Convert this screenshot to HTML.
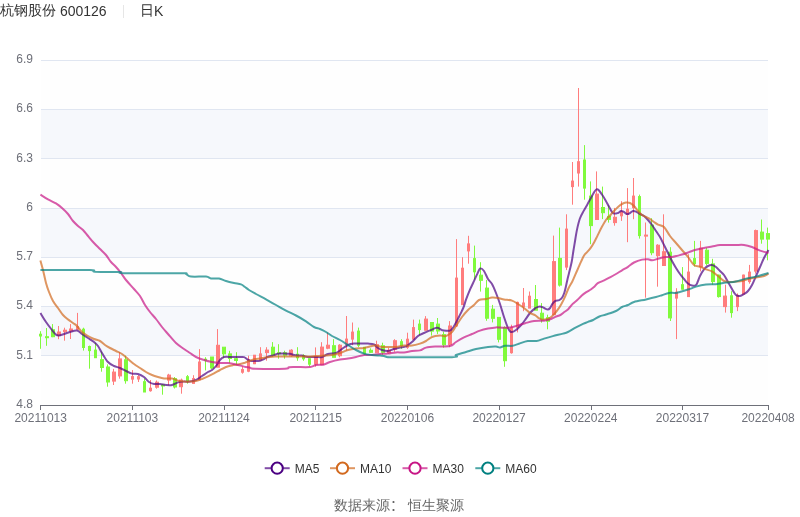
<!DOCTYPE html>
<html><head><meta charset="utf-8"><style>
html,body{margin:0;padding:0;background:#fff;width:800px;height:517px;overflow:hidden}
svg{position:absolute;left:0;top:0;will-change:transform}
.t{will-change:transform}
.ax{font-family:"Liberation Sans",sans-serif;font-size:12px;fill:#6E7079}
.lg{font-family:"Liberation Sans",sans-serif;font-size:12px;fill:#333}
.t{position:absolute;font-family:"Liberation Sans","WenQuanYi Zen Hei",sans-serif;font-size:14px;color:#333;white-space:nowrap;line-height:1}
</style></head><body>
<svg width="800" height="517" viewBox="0 0 800 517">
<rect x="41" y="355.5" width="727" height="50.0" fill="#fefefe"/>
<rect x="41" y="306.5" width="727" height="49.0" fill="#f6f8fc"/>
<rect x="41" y="257.5" width="727" height="49.0" fill="#fefefe"/>
<rect x="41" y="208.5" width="727" height="49.0" fill="#f6f8fc"/>
<rect x="41" y="158.5" width="727" height="50.0" fill="#fefefe"/>
<rect x="41" y="109.5" width="727" height="49.0" fill="#f6f8fc"/>
<rect x="41" y="60.5" width="727" height="49.0" fill="#fefefe"/>
<line x1="41" y1="355.5" x2="768" y2="355.5" stroke="#E0E6F1" stroke-width="1"/>
<line x1="41" y1="306.5" x2="768" y2="306.5" stroke="#E0E6F1" stroke-width="1"/>
<line x1="41" y1="257.5" x2="768" y2="257.5" stroke="#E0E6F1" stroke-width="1"/>
<line x1="41" y1="208.5" x2="768" y2="208.5" stroke="#E0E6F1" stroke-width="1"/>
<line x1="41" y1="158.5" x2="768" y2="158.5" stroke="#E0E6F1" stroke-width="1"/>
<line x1="41" y1="109.5" x2="768" y2="109.5" stroke="#E0E6F1" stroke-width="1"/>
<line x1="41" y1="60.5" x2="768" y2="60.5" stroke="#E0E6F1" stroke-width="1"/>
<text x="33" y="408.00" text-anchor="end" class="ax">4.8</text>
<text x="33" y="358.71" text-anchor="end" class="ax">5.1</text>
<text x="33" y="309.43" text-anchor="end" class="ax">5.4</text>
<text x="33" y="260.14" text-anchor="end" class="ax">5.7</text>
<text x="33" y="210.86" text-anchor="end" class="ax">6</text>
<text x="33" y="161.57" text-anchor="end" class="ax">6.3</text>
<text x="33" y="112.29" text-anchor="end" class="ax">6.6</text>
<text x="33" y="63.00" text-anchor="end" class="ax">6.9</text>
<line x1="40.665" y1="405.5" x2="768.06" y2="405.5" stroke="#6E7079" stroke-width="1"/>
<line x1="40.5" y1="405" x2="40.5" y2="410" stroke="#6E7079" stroke-width="1"/>
<text x="40.7" y="422" text-anchor="middle" class="ax">20211013</text>
<line x1="132.5" y1="405" x2="132.5" y2="410" stroke="#6E7079" stroke-width="1"/>
<text x="132.4" y="422" text-anchor="middle" class="ax">20211103</text>
<line x1="224.5" y1="405" x2="224.5" y2="410" stroke="#6E7079" stroke-width="1"/>
<text x="224.0" y="422" text-anchor="middle" class="ax">20211124</text>
<line x1="315.5" y1="405" x2="315.5" y2="410" stroke="#6E7079" stroke-width="1"/>
<text x="315.7" y="422" text-anchor="middle" class="ax">20211215</text>
<line x1="407.5" y1="405" x2="407.5" y2="410" stroke="#6E7079" stroke-width="1"/>
<text x="407.4" y="422" text-anchor="middle" class="ax">20220106</text>
<line x1="499.5" y1="405" x2="499.5" y2="410" stroke="#6E7079" stroke-width="1"/>
<text x="499.1" y="422" text-anchor="middle" class="ax">20220127</text>
<line x1="591.5" y1="405" x2="591.5" y2="410" stroke="#6E7079" stroke-width="1"/>
<text x="590.8" y="422" text-anchor="middle" class="ax">20220224</text>
<line x1="682.5" y1="405" x2="682.5" y2="410" stroke="#6E7079" stroke-width="1"/>
<text x="682.5" y="422" text-anchor="middle" class="ax">20220317</text>
<line x1="768.5" y1="405" x2="768.5" y2="410" stroke="#6E7079" stroke-width="1"/>
<text x="768.1" y="422" text-anchor="middle" class="ax">20220408</text>
<path d="M40.5 331.2V334.2M40.5 336.0V348.8" stroke="#80fa3c" stroke-width="1" fill="none"/>
<rect x="39.5" y="334.2" width="2.0" height="1.8" fill="#80fa3c" stroke="#80fa3c" stroke-width="1"/>
<path d="M46.5 328.0V336.7M46.5 337.7V345.8" stroke="#80fa3c" stroke-width="1" fill="none"/>
<rect x="45.5" y="336.7" width="3.0" height="1.0" fill="#80fa3c" stroke="#80fa3c" stroke-width="1"/>
<path d="M52.5 324.1V329.7M52.5 336.7V337.2" stroke="#80fa3c" stroke-width="1" fill="none"/>
<rect x="51.5" y="329.7" width="3.0" height="7.0" fill="#80fa3c" stroke="#80fa3c" stroke-width="1"/>
<path d="M58.5 326.0V332.0M58.5 335.4V339.2" stroke="#ff7d7d" stroke-width="1" fill="none"/>
<rect x="57.5" y="332.0" width="3.0" height="3.4" fill="#ff7d7d" stroke="#ff7d7d" stroke-width="1"/>
<path d="M64.5 327.7V330.2M64.5 331.7V340.7" stroke="#ff7d7d" stroke-width="1" fill="none"/>
<rect x="63.5" y="330.2" width="3.0" height="1.5" fill="#ff7d7d" stroke="#ff7d7d" stroke-width="1"/>
<path d="M70.5 324.1V329.0M70.5 331.0V339.0" stroke="#ff7d7d" stroke-width="1" fill="none"/>
<rect x="69.5" y="329.0" width="3.0" height="2.0" fill="#ff7d7d" stroke="#ff7d7d" stroke-width="1"/>
<path d="M77.5 312.9V326.7M77.5 329.2V330.2" stroke="#ff7d7d" stroke-width="1" fill="none"/>
<rect x="76.5" y="326.7" width="2.0" height="2.5" fill="#ff7d7d" stroke="#ff7d7d" stroke-width="1"/>
<path d="M83.5 327.7V329.2M83.5 347.5V350.6" stroke="#80fa3c" stroke-width="1" fill="none"/>
<rect x="82.5" y="329.2" width="2.0" height="18.3" fill="#80fa3c" stroke="#80fa3c" stroke-width="1"/>
<path d="M89.5 345.6V346.5M89.5 350.6V368.7" stroke="#80fa3c" stroke-width="1" fill="none"/>
<rect x="88.5" y="346.5" width="2.0" height="4.1" fill="#80fa3c" stroke="#80fa3c" stroke-width="1"/>
<path d="M95.5 342.8V350.1M95.5 357.7V357.7" stroke="#80fa3c" stroke-width="1" fill="none"/>
<rect x="94.5" y="350.1" width="2.0" height="7.6" fill="#80fa3c" stroke="#80fa3c" stroke-width="1"/>
<path d="M101.5 351.6V359.7M101.5 367.5V371.7" stroke="#80fa3c" stroke-width="1" fill="none"/>
<rect x="100.5" y="359.7" width="3.0" height="7.8" fill="#80fa3c" stroke="#80fa3c" stroke-width="1"/>
<path d="M107.5 364.4V367.0M107.5 382.0V386.7" stroke="#80fa3c" stroke-width="1" fill="none"/>
<rect x="106.5" y="367.0" width="3.0" height="15.0" fill="#80fa3c" stroke="#80fa3c" stroke-width="1"/>
<path d="M113.5 368.9V372.1M113.5 381.1V385.0" stroke="#ff7d7d" stroke-width="1" fill="none"/>
<rect x="112.5" y="372.1" width="3.0" height="9.0" fill="#ff7d7d" stroke="#ff7d7d" stroke-width="1"/>
<path d="M119.5 352.1V358.9M119.5 375.9V378.7" stroke="#ff7d7d" stroke-width="1" fill="none"/>
<rect x="118.5" y="358.9" width="3.0" height="17.0" fill="#ff7d7d" stroke="#ff7d7d" stroke-width="1"/>
<path d="M125.5 355.7V359.8M125.5 380.7V383.7" stroke="#80fa3c" stroke-width="1" fill="none"/>
<rect x="124.5" y="359.8" width="3.0" height="20.9" fill="#80fa3c" stroke="#80fa3c" stroke-width="1"/>
<path d="M132.5 370.1V376.6M132.5 379.1V383.7" stroke="#ff7d7d" stroke-width="1" fill="none"/>
<rect x="131.5" y="376.6" width="2.0" height="2.5" fill="#ff7d7d" stroke="#ff7d7d" stroke-width="1"/>
<path d="M138.5 375.1V376.7M138.5 379.0V382.0" stroke="#ff7d7d" stroke-width="1" fill="none"/>
<rect x="137.5" y="376.7" width="2.0" height="2.3" fill="#ff7d7d" stroke="#ff7d7d" stroke-width="1"/>
<path d="M144.5 378.6V381.7M144.5 392.0V392.0" stroke="#80fa3c" stroke-width="1" fill="none"/>
<rect x="143.5" y="381.7" width="2.0" height="10.3" fill="#80fa3c" stroke="#80fa3c" stroke-width="1"/>
<path d="M150.5 380.0V388.2M150.5 390.7V391.7" stroke="#ff7d7d" stroke-width="1" fill="none"/>
<rect x="149.5" y="388.2" width="2.0" height="2.5" fill="#ff7d7d" stroke="#ff7d7d" stroke-width="1"/>
<path d="M156.5 380.5V382.2M156.5 387.2V388.7" stroke="#ff7d7d" stroke-width="1" fill="none"/>
<rect x="155.5" y="382.2" width="3.0" height="5.0" fill="#ff7d7d" stroke="#ff7d7d" stroke-width="1"/>
<path d="M162.5 384.2V385.0M162.5 386.0V394.7" stroke="#80fa3c" stroke-width="1" fill="none"/>
<rect x="161.5" y="385.0" width="3.0" height="1.0" fill="#80fa3c" stroke="#80fa3c" stroke-width="1"/>
<path d="M168.5 373.8V375.1M168.5 380.1V385.2" stroke="#ff7d7d" stroke-width="1" fill="none"/>
<rect x="167.5" y="375.1" width="3.0" height="5.0" fill="#ff7d7d" stroke="#ff7d7d" stroke-width="1"/>
<path d="M174.5 377.0V378.6M174.5 387.0V388.5" stroke="#80fa3c" stroke-width="1" fill="none"/>
<rect x="173.5" y="378.6" width="3.0" height="8.4" fill="#80fa3c" stroke="#80fa3c" stroke-width="1"/>
<path d="M181.5 378.6V380.1M181.5 386.7V393.7" stroke="#ff7d7d" stroke-width="1" fill="none"/>
<rect x="179.5" y="380.1" width="3.0" height="6.6" fill="#ff7d7d" stroke="#ff7d7d" stroke-width="1"/>
<path d="M187.5 375.0V376.7M187.5 381.0V383.7" stroke="#80fa3c" stroke-width="1" fill="none"/>
<rect x="186.5" y="376.7" width="2.0" height="4.3" fill="#80fa3c" stroke="#80fa3c" stroke-width="1"/>
<path d="M193.5 375.2V378.6M193.5 383.4V383.4" stroke="#ff7d7d" stroke-width="1" fill="none"/>
<rect x="192.5" y="378.6" width="2.0" height="4.8" fill="#ff7d7d" stroke="#ff7d7d" stroke-width="1"/>
<path d="M199.5 349.1V362.0M199.5 379.7V380.1" stroke="#ff7d7d" stroke-width="1" fill="none"/>
<rect x="198.5" y="362.0" width="2.0" height="17.7" fill="#ff7d7d" stroke="#ff7d7d" stroke-width="1"/>
<path d="M205.5 357.2V359.2M205.5 360.2V370.4" stroke="#80fa3c" stroke-width="1" fill="none"/>
<rect x="204.5" y="359.2" width="2.0" height="1.0" fill="#80fa3c" stroke="#80fa3c" stroke-width="1"/>
<path d="M211.5 357.0V357.0M211.5 367.9V369.1" stroke="#80fa3c" stroke-width="1" fill="none"/>
<rect x="210.5" y="357.0" width="3.0" height="10.9" fill="#80fa3c" stroke="#80fa3c" stroke-width="1"/>
<path d="M217.5 329.1V345.3M217.5 367.2V367.2" stroke="#ff7d7d" stroke-width="1" fill="none"/>
<rect x="216.5" y="345.3" width="3.0" height="21.9" fill="#ff7d7d" stroke="#ff7d7d" stroke-width="1"/>
<path d="M223.5 347.2V347.2M223.5 353.8V358.2" stroke="#80fa3c" stroke-width="1" fill="none"/>
<rect x="222.5" y="347.2" width="3.0" height="6.6" fill="#80fa3c" stroke="#80fa3c" stroke-width="1"/>
<path d="M229.5 350.8V353.9M229.5 358.5V363.3" stroke="#80fa3c" stroke-width="1" fill="none"/>
<rect x="228.5" y="353.9" width="3.0" height="4.6" fill="#80fa3c" stroke="#80fa3c" stroke-width="1"/>
<path d="M236.5 352.2V358.7M236.5 360.5V364.5" stroke="#80fa3c" stroke-width="1" fill="none"/>
<rect x="234.5" y="358.7" width="3.0" height="1.8" fill="#80fa3c" stroke="#80fa3c" stroke-width="1"/>
<path d="M242.5 366.6V369.6M242.5 372.2V373.7" stroke="#ff7d7d" stroke-width="1" fill="none"/>
<rect x="241.5" y="369.6" width="2.0" height="2.6" fill="#ff7d7d" stroke="#ff7d7d" stroke-width="1"/>
<path d="M248.5 355.7V359.9M248.5 371.2V372.2" stroke="#ff7d7d" stroke-width="1" fill="none"/>
<rect x="247.5" y="359.9" width="2.0" height="11.3" fill="#ff7d7d" stroke="#ff7d7d" stroke-width="1"/>
<path d="M254.5 355.2V355.2M254.5 363.7V364.1" stroke="#ff7d7d" stroke-width="1" fill="none"/>
<rect x="253.5" y="355.2" width="2.0" height="8.5" fill="#ff7d7d" stroke="#ff7d7d" stroke-width="1"/>
<path d="M260.5 347.2V353.9M260.5 360.0V360.1" stroke="#ff7d7d" stroke-width="1" fill="none"/>
<rect x="259.5" y="353.9" width="2.0" height="6.1" fill="#ff7d7d" stroke="#ff7d7d" stroke-width="1"/>
<path d="M266.5 347.2V350.1M266.5 352.6V360.7" stroke="#ff7d7d" stroke-width="1" fill="none"/>
<rect x="265.5" y="350.1" width="3.0" height="2.5" fill="#ff7d7d" stroke="#ff7d7d" stroke-width="1"/>
<path d="M272.5 342.1V347.2M272.5 355.2V356.7" stroke="#80fa3c" stroke-width="1" fill="none"/>
<rect x="271.5" y="347.2" width="3.0" height="8.0" fill="#80fa3c" stroke="#80fa3c" stroke-width="1"/>
<path d="M278.5 344.2V352.7M278.5 353.7V358.7" stroke="#80fa3c" stroke-width="1" fill="none"/>
<rect x="277.5" y="352.7" width="3.0" height="1.0" fill="#80fa3c" stroke="#80fa3c" stroke-width="1"/>
<path d="M284.5 350.7V352.7M284.5 355.2V358.7" stroke="#80fa3c" stroke-width="1" fill="none"/>
<rect x="283.5" y="352.7" width="3.0" height="2.5" fill="#80fa3c" stroke="#80fa3c" stroke-width="1"/>
<path d="M291.5 349.2V350.2M291.5 355.7V356.7" stroke="#ff7d7d" stroke-width="1" fill="none"/>
<rect x="289.5" y="350.2" width="3.0" height="5.5" fill="#ff7d7d" stroke="#ff7d7d" stroke-width="1"/>
<path d="M297.5 347.2V354.2M297.5 357.8V360.8" stroke="#80fa3c" stroke-width="1" fill="none"/>
<rect x="296.5" y="354.2" width="2.0" height="3.6" fill="#80fa3c" stroke="#80fa3c" stroke-width="1"/>
<path d="M303.5 354.2V355.7M303.5 358.8V360.8" stroke="#80fa3c" stroke-width="1" fill="none"/>
<rect x="302.5" y="355.7" width="2.0" height="3.1" fill="#80fa3c" stroke="#80fa3c" stroke-width="1"/>
<path d="M309.5 358.3V358.7M309.5 364.2V366.5" stroke="#80fa3c" stroke-width="1" fill="none"/>
<rect x="308.5" y="358.7" width="2.0" height="5.5" fill="#80fa3c" stroke="#80fa3c" stroke-width="1"/>
<path d="M315.5 347.4V356.6M315.5 364.1V366.7" stroke="#ff7d7d" stroke-width="1" fill="none"/>
<rect x="314.5" y="356.6" width="3.0" height="7.5" fill="#ff7d7d" stroke="#ff7d7d" stroke-width="1"/>
<path d="M321.5 342.2V347.1M321.5 364.7V365.2" stroke="#ff7d7d" stroke-width="1" fill="none"/>
<rect x="320.5" y="347.1" width="3.0" height="17.6" fill="#ff7d7d" stroke="#ff7d7d" stroke-width="1"/>
<path d="M327.5 332.6V345.2M327.5 348.2V349.2" stroke="#ff7d7d" stroke-width="1" fill="none"/>
<rect x="326.5" y="345.2" width="3.0" height="3.0" fill="#ff7d7d" stroke="#ff7d7d" stroke-width="1"/>
<path d="M333.5 339.1V345.7M333.5 357.3V357.3" stroke="#80fa3c" stroke-width="1" fill="none"/>
<rect x="332.5" y="345.7" width="3.0" height="11.6" fill="#80fa3c" stroke="#80fa3c" stroke-width="1"/>
<path d="M339.5 344.2V345.2M339.5 355.7V357.3" stroke="#ff7d7d" stroke-width="1" fill="none"/>
<rect x="338.5" y="345.2" width="3.0" height="10.5" fill="#ff7d7d" stroke="#ff7d7d" stroke-width="1"/>
<path d="M346.5 316.0V339.1M346.5 344.2V350.7" stroke="#ff7d7d" stroke-width="1" fill="none"/>
<rect x="345.5" y="339.1" width="2.0" height="5.1" fill="#ff7d7d" stroke="#ff7d7d" stroke-width="1"/>
<path d="M352.5 322.5V332.1M352.5 339.1V345.2" stroke="#ff7d7d" stroke-width="1" fill="none"/>
<rect x="351.5" y="332.1" width="2.0" height="7.0" fill="#ff7d7d" stroke="#ff7d7d" stroke-width="1"/>
<path d="M358.5 327.6V331.1M358.5 345.2V347.2" stroke="#80fa3c" stroke-width="1" fill="none"/>
<rect x="357.5" y="331.1" width="2.0" height="14.1" fill="#80fa3c" stroke="#80fa3c" stroke-width="1"/>
<path d="M364.5 347.3V347.3M364.5 353.3V354.8" stroke="#80fa3c" stroke-width="1" fill="none"/>
<rect x="363.5" y="347.3" width="2.0" height="6.0" fill="#80fa3c" stroke="#80fa3c" stroke-width="1"/>
<path d="M370.5 348.3V350.3M370.5 352.3V353.0" stroke="#80fa3c" stroke-width="1" fill="none"/>
<rect x="369.5" y="350.3" width="3.0" height="2.0" fill="#80fa3c" stroke="#80fa3c" stroke-width="1"/>
<path d="M376.5 340.7V344.7M376.5 352.8V352.8" stroke="#ff7d7d" stroke-width="1" fill="none"/>
<rect x="375.5" y="344.7" width="3.0" height="8.1" fill="#ff7d7d" stroke="#ff7d7d" stroke-width="1"/>
<path d="M382.5 342.7V345.7M382.5 352.3V354.8" stroke="#80fa3c" stroke-width="1" fill="none"/>
<rect x="381.5" y="345.7" width="3.0" height="6.6" fill="#80fa3c" stroke="#80fa3c" stroke-width="1"/>
<path d="M388.5 347.8V350.3M388.5 352.8V353.8" stroke="#ff7d7d" stroke-width="1" fill="none"/>
<rect x="387.5" y="350.3" width="3.0" height="2.5" fill="#ff7d7d" stroke="#ff7d7d" stroke-width="1"/>
<path d="M394.5 339.2V340.7M394.5 349.3V351.8" stroke="#ff7d7d" stroke-width="1" fill="none"/>
<rect x="393.5" y="340.7" width="3.0" height="8.6" fill="#ff7d7d" stroke="#ff7d7d" stroke-width="1"/>
<path d="M401.5 339.2V341.7M401.5 345.7V348.8" stroke="#80fa3c" stroke-width="1" fill="none"/>
<rect x="400.5" y="341.7" width="2.0" height="4.0" fill="#80fa3c" stroke="#80fa3c" stroke-width="1"/>
<path d="M407.5 332.7V339.2M407.5 347.3V348.8" stroke="#ff7d7d" stroke-width="1" fill="none"/>
<rect x="406.5" y="339.2" width="2.0" height="8.1" fill="#ff7d7d" stroke="#ff7d7d" stroke-width="1"/>
<path d="M413.5 319.6V327.6M413.5 339.2V339.2" stroke="#ff7d7d" stroke-width="1" fill="none"/>
<rect x="412.5" y="327.6" width="2.0" height="11.6" fill="#ff7d7d" stroke="#ff7d7d" stroke-width="1"/>
<path d="M419.5 319.6V324.1M419.5 329.6V335.2" stroke="#80fa3c" stroke-width="1" fill="none"/>
<rect x="418.5" y="324.1" width="2.0" height="5.5" fill="#80fa3c" stroke="#80fa3c" stroke-width="1"/>
<path d="M425.5 316.1V319.1M425.5 330.2V330.7" stroke="#ff7d7d" stroke-width="1" fill="none"/>
<rect x="424.5" y="319.1" width="3.0" height="11.1" fill="#ff7d7d" stroke="#ff7d7d" stroke-width="1"/>
<path d="M431.5 322.5V322.5M431.5 331.1V335.6" stroke="#80fa3c" stroke-width="1" fill="none"/>
<rect x="430.5" y="322.5" width="3.0" height="8.6" fill="#80fa3c" stroke="#80fa3c" stroke-width="1"/>
<path d="M437.5 318.0V324.1M437.5 331.0V334.1" stroke="#80fa3c" stroke-width="1" fill="none"/>
<rect x="436.5" y="324.1" width="3.0" height="6.9" fill="#80fa3c" stroke="#80fa3c" stroke-width="1"/>
<path d="M443.5 331.6V334.6M443.5 344.7V347.7" stroke="#80fa3c" stroke-width="1" fill="none"/>
<rect x="442.5" y="334.6" width="3.0" height="10.1" fill="#80fa3c" stroke="#80fa3c" stroke-width="1"/>
<path d="M449.5 321.1V326.0M449.5 344.7V347.2" stroke="#ff7d7d" stroke-width="1" fill="none"/>
<rect x="448.5" y="326.0" width="3.0" height="18.7" fill="#ff7d7d" stroke="#ff7d7d" stroke-width="1"/>
<path d="M456.5 239.1V278.1M456.5 326.0V327.0" stroke="#ff7d7d" stroke-width="1" fill="none"/>
<rect x="455.5" y="278.1" width="2.0" height="47.9" fill="#ff7d7d" stroke="#ff7d7d" stroke-width="1"/>
<path d="M462.5 257.2V268.2M462.5 304.7V304.7" stroke="#ff7d7d" stroke-width="1" fill="none"/>
<rect x="461.5" y="268.2" width="2.0" height="36.5" fill="#ff7d7d" stroke="#ff7d7d" stroke-width="1"/>
<path d="M468.5 235.8V243.9M468.5 250.9V263.7" stroke="#ff7d7d" stroke-width="1" fill="none"/>
<rect x="467.5" y="243.9" width="2.0" height="7.0" fill="#ff7d7d" stroke="#ff7d7d" stroke-width="1"/>
<path d="M474.5 245.6V258.6M474.5 271.8V279.7" stroke="#80fa3c" stroke-width="1" fill="none"/>
<rect x="473.5" y="258.6" width="2.0" height="13.2" fill="#80fa3c" stroke="#80fa3c" stroke-width="1"/>
<path d="M480.5 262.2V275.2M480.5 280.3V291.6" stroke="#80fa3c" stroke-width="1" fill="none"/>
<rect x="479.5" y="275.2" width="3.0" height="5.1" fill="#80fa3c" stroke="#80fa3c" stroke-width="1"/>
<path d="M486.5 279.9V288.1M486.5 318.2V320.8" stroke="#80fa3c" stroke-width="1" fill="none"/>
<rect x="485.5" y="288.1" width="3.0" height="30.1" fill="#80fa3c" stroke="#80fa3c" stroke-width="1"/>
<path d="M492.5 304.9V309.2M492.5 318.3V322.4" stroke="#80fa3c" stroke-width="1" fill="none"/>
<rect x="491.5" y="309.2" width="3.0" height="9.1" fill="#80fa3c" stroke="#80fa3c" stroke-width="1"/>
<path d="M498.5 317.4V317.4M498.5 339.3V342.4" stroke="#80fa3c" stroke-width="1" fill="none"/>
<rect x="497.5" y="317.4" width="3.0" height="21.9" fill="#80fa3c" stroke="#80fa3c" stroke-width="1"/>
<path d="M504.5 326.3V327.7M504.5 360.7V366.8" stroke="#80fa3c" stroke-width="1" fill="none"/>
<rect x="503.5" y="327.7" width="3.0" height="33.0" fill="#80fa3c" stroke="#80fa3c" stroke-width="1"/>
<path d="M511.5 324.7V327.8M511.5 352.7V353.7" stroke="#ff7d7d" stroke-width="1" fill="none"/>
<rect x="510.5" y="327.8" width="2.0" height="24.9" fill="#ff7d7d" stroke="#ff7d7d" stroke-width="1"/>
<path d="M517.5 301.6V302.4M517.5 327.3V332.4" stroke="#ff7d7d" stroke-width="1" fill="none"/>
<rect x="516.5" y="302.4" width="2.0" height="24.9" fill="#ff7d7d" stroke="#ff7d7d" stroke-width="1"/>
<path d="M523.5 288.0V303.0M523.5 306.6V311.2" stroke="#ff7d7d" stroke-width="1" fill="none"/>
<rect x="522.5" y="303.0" width="2.0" height="3.6" fill="#ff7d7d" stroke="#ff7d7d" stroke-width="1"/>
<path d="M529.5 291.5V296.2M529.5 308.1V308.1" stroke="#ff7d7d" stroke-width="1" fill="none"/>
<rect x="528.5" y="296.2" width="2.0" height="11.9" fill="#ff7d7d" stroke="#ff7d7d" stroke-width="1"/>
<path d="M535.5 285.0V299.5M535.5 310.2V310.2" stroke="#80fa3c" stroke-width="1" fill="none"/>
<rect x="534.5" y="299.5" width="3.0" height="10.7" fill="#80fa3c" stroke="#80fa3c" stroke-width="1"/>
<path d="M541.5 303.1V313.2M541.5 319.2V322.7" stroke="#80fa3c" stroke-width="1" fill="none"/>
<rect x="540.5" y="313.2" width="3.0" height="6.0" fill="#80fa3c" stroke="#80fa3c" stroke-width="1"/>
<path d="M547.5 314.7V317.7M547.5 321.2V329.3" stroke="#80fa3c" stroke-width="1" fill="none"/>
<rect x="546.5" y="317.7" width="3.0" height="3.5" fill="#80fa3c" stroke="#80fa3c" stroke-width="1"/>
<path d="M553.5 235.6V261.6M553.5 314.7V314.7" stroke="#ff7d7d" stroke-width="1" fill="none"/>
<rect x="552.5" y="261.6" width="3.0" height="53.1" fill="#ff7d7d" stroke="#ff7d7d" stroke-width="1"/>
<path d="M559.5 227.6V258.4M559.5 285.1V286.6" stroke="#80fa3c" stroke-width="1" fill="none"/>
<rect x="558.5" y="258.4" width="3.0" height="26.7" fill="#80fa3c" stroke="#80fa3c" stroke-width="1"/>
<path d="M566.5 214.3V229.1M566.5 267.1V270.1" stroke="#ff7d7d" stroke-width="1" fill="none"/>
<rect x="565.5" y="229.1" width="2.0" height="38.0" fill="#ff7d7d" stroke="#ff7d7d" stroke-width="1"/>
<path d="M572.5 162.0V181.1M572.5 186.6V204.7" stroke="#ff7d7d" stroke-width="1" fill="none"/>
<rect x="571.5" y="181.1" width="2.0" height="5.5" fill="#ff7d7d" stroke="#ff7d7d" stroke-width="1"/>
<path d="M578.5 88.0V161.7M578.5 173.0V186.6" stroke="#ff7d7d" stroke-width="1" fill="none"/>
<rect x="577.5" y="161.7" width="2.0" height="11.3" fill="#ff7d7d" stroke="#ff7d7d" stroke-width="1"/>
<path d="M584.5 145.1V160.0M584.5 188.1V199.7" stroke="#80fa3c" stroke-width="1" fill="none"/>
<rect x="583.5" y="160.0" width="2.0" height="28.1" fill="#80fa3c" stroke="#80fa3c" stroke-width="1"/>
<path d="M590.5 181.4V196.1M590.5 225.6V244.2" stroke="#80fa3c" stroke-width="1" fill="none"/>
<rect x="589.5" y="196.1" width="3.0" height="29.5" fill="#80fa3c" stroke="#80fa3c" stroke-width="1"/>
<path d="M596.5 171.4V194.1M596.5 219.5V219.5" stroke="#ff7d7d" stroke-width="1" fill="none"/>
<rect x="595.5" y="194.1" width="3.0" height="25.4" fill="#ff7d7d" stroke="#ff7d7d" stroke-width="1"/>
<path d="M602.5 186.6V207.5M602.5 212.7V219.1" stroke="#80fa3c" stroke-width="1" fill="none"/>
<rect x="601.5" y="207.5" width="3.0" height="5.2" fill="#80fa3c" stroke="#80fa3c" stroke-width="1"/>
<path d="M608.5 205.2V216.4M608.5 219.4V222.6" stroke="#80fa3c" stroke-width="1" fill="none"/>
<rect x="607.5" y="216.4" width="3.0" height="3.0" fill="#80fa3c" stroke="#80fa3c" stroke-width="1"/>
<path d="M614.5 207.9V217.3M614.5 222.6V225.7" stroke="#ff7d7d" stroke-width="1" fill="none"/>
<rect x="613.5" y="217.3" width="3.0" height="5.3" fill="#ff7d7d" stroke="#ff7d7d" stroke-width="1"/>
<path d="M621.5 201.2V211.7M621.5 215.8V220.9" stroke="#ff7d7d" stroke-width="1" fill="none"/>
<rect x="620.5" y="211.7" width="2.0" height="4.1" fill="#ff7d7d" stroke="#ff7d7d" stroke-width="1"/>
<path d="M627.5 188.1V209.2M627.5 214.3V242.2" stroke="#ff7d7d" stroke-width="1" fill="none"/>
<rect x="626.5" y="209.2" width="2.0" height="5.1" fill="#ff7d7d" stroke="#ff7d7d" stroke-width="1"/>
<path d="M633.5 178.0V196.1M633.5 207.7V219.2" stroke="#ff7d7d" stroke-width="1" fill="none"/>
<rect x="632.5" y="196.1" width="2.0" height="11.6" fill="#ff7d7d" stroke="#ff7d7d" stroke-width="1"/>
<path d="M639.5 194.6V196.6M639.5 235.6V238.6" stroke="#80fa3c" stroke-width="1" fill="none"/>
<rect x="638.5" y="196.6" width="2.0" height="39.0" fill="#80fa3c" stroke="#80fa3c" stroke-width="1"/>
<path d="M645.5 222.5V235.1M645.5 236.1V297.7" stroke="#ff7d7d" stroke-width="1" fill="none"/>
<rect x="644.5" y="235.1" width="3.0" height="1.0" fill="#ff7d7d" stroke="#ff7d7d" stroke-width="1"/>
<path d="M651.5 218.2V225.1M651.5 252.7V255.2" stroke="#80fa3c" stroke-width="1" fill="none"/>
<rect x="650.5" y="225.1" width="3.0" height="27.6" fill="#80fa3c" stroke="#80fa3c" stroke-width="1"/>
<path d="M657.5 244.2V245.2M657.5 255.7V286.7" stroke="#ff7d7d" stroke-width="1" fill="none"/>
<rect x="656.5" y="245.2" width="3.0" height="10.5" fill="#ff7d7d" stroke="#ff7d7d" stroke-width="1"/>
<path d="M663.5 214.3V251.7M663.5 265.5V265.5" stroke="#ff7d7d" stroke-width="1" fill="none"/>
<rect x="662.5" y="251.7" width="3.0" height="13.8" fill="#ff7d7d" stroke="#ff7d7d" stroke-width="1"/>
<path d="M670.5 247.2V252.2M670.5 317.9V321.0" stroke="#80fa3c" stroke-width="1" fill="none"/>
<rect x="668.5" y="252.2" width="3.0" height="65.7" fill="#80fa3c" stroke="#80fa3c" stroke-width="1"/>
<path d="M676.5 288.2V292.2M676.5 298.1V339.1" stroke="#ff7d7d" stroke-width="1" fill="none"/>
<rect x="675.5" y="292.2" width="2.0" height="5.9" fill="#ff7d7d" stroke="#ff7d7d" stroke-width="1"/>
<path d="M682.5 267.1V284.7M682.5 289.2V289.7" stroke="#80fa3c" stroke-width="1" fill="none"/>
<rect x="681.5" y="284.7" width="2.0" height="4.5" fill="#80fa3c" stroke="#80fa3c" stroke-width="1"/>
<path d="M688.5 254.2V272.1M688.5 296.6V296.6" stroke="#ff7d7d" stroke-width="1" fill="none"/>
<rect x="687.5" y="272.1" width="2.0" height="24.5" fill="#ff7d7d" stroke="#ff7d7d" stroke-width="1"/>
<path d="M694.5 240.9V258.6M694.5 263.6V266.6" stroke="#80fa3c" stroke-width="1" fill="none"/>
<rect x="693.5" y="258.6" width="2.0" height="5.0" fill="#80fa3c" stroke="#80fa3c" stroke-width="1"/>
<path d="M700.5 240.9V248.2M700.5 267.0V271.4" stroke="#ff7d7d" stroke-width="1" fill="none"/>
<rect x="699.5" y="248.2" width="3.0" height="18.8" fill="#ff7d7d" stroke="#ff7d7d" stroke-width="1"/>
<path d="M706.5 247.7V250.2M706.5 263.4V265.6" stroke="#80fa3c" stroke-width="1" fill="none"/>
<rect x="705.5" y="250.2" width="3.0" height="13.2" fill="#80fa3c" stroke="#80fa3c" stroke-width="1"/>
<path d="M712.5 258.8V263.9M712.5 281.6V284.7" stroke="#80fa3c" stroke-width="1" fill="none"/>
<rect x="711.5" y="263.9" width="3.0" height="17.7" fill="#80fa3c" stroke="#80fa3c" stroke-width="1"/>
<path d="M718.5 274.6V275.1M718.5 296.6V297.6" stroke="#80fa3c" stroke-width="1" fill="none"/>
<rect x="717.5" y="275.1" width="3.0" height="21.5" fill="#80fa3c" stroke="#80fa3c" stroke-width="1"/>
<path d="M725.5 284.7V296.1M725.5 306.6V312.6" stroke="#ff7d7d" stroke-width="1" fill="none"/>
<rect x="723.5" y="296.1" width="3.0" height="10.5" fill="#ff7d7d" stroke="#ff7d7d" stroke-width="1"/>
<path d="M731.5 291.2V295.8M731.5 312.6V317.7" stroke="#80fa3c" stroke-width="1" fill="none"/>
<rect x="730.5" y="295.8" width="2.0" height="16.8" fill="#80fa3c" stroke="#80fa3c" stroke-width="1"/>
<path d="M737.5 293.4V295.6M737.5 306.6V311.1" stroke="#ff7d7d" stroke-width="1" fill="none"/>
<rect x="736.5" y="295.6" width="2.0" height="11.0" fill="#ff7d7d" stroke="#ff7d7d" stroke-width="1"/>
<path d="M743.5 274.6V275.1M743.5 294.1V294.1" stroke="#ff7d7d" stroke-width="1" fill="none"/>
<rect x="742.5" y="275.1" width="2.0" height="19.0" fill="#ff7d7d" stroke="#ff7d7d" stroke-width="1"/>
<path d="M749.5 264.9V272.1M749.5 281.6V283.7" stroke="#ff7d7d" stroke-width="1" fill="none"/>
<rect x="748.5" y="272.1" width="2.0" height="9.5" fill="#ff7d7d" stroke="#ff7d7d" stroke-width="1"/>
<path d="M755.5 229.6V230.6M755.5 271.1V273.6" stroke="#ff7d7d" stroke-width="1" fill="none"/>
<rect x="754.5" y="230.6" width="3.0" height="40.5" fill="#ff7d7d" stroke="#ff7d7d" stroke-width="1"/>
<path d="M761.5 219.5V232.1M761.5 239.1V243.7" stroke="#80fa3c" stroke-width="1" fill="none"/>
<rect x="760.5" y="232.1" width="3.0" height="7.0" fill="#80fa3c" stroke="#80fa3c" stroke-width="1"/>
<path d="M767.5 227.6V233.6M767.5 239.1V260.3" stroke="#80fa3c" stroke-width="1" fill="none"/>
<rect x="766.5" y="233.6" width="3.0" height="5.5" fill="#80fa3c" stroke="#80fa3c" stroke-width="1"/>
<path d="M40.40 313.00C41.33 314.50 44.07 319.17 46.00 322.00C47.93 324.83 50.33 327.90 52.00 330.00C53.67 332.10 54.83 333.70 56.00 334.60C57.17 335.50 57.67 335.50 59.00 335.40C60.33 335.30 62.17 334.57 64.00 334.00C65.83 333.43 67.83 332.57 70.00 332.00C72.17 331.43 75.00 330.27 77.00 330.60C79.00 330.93 80.17 332.77 82.00 334.00C83.83 335.23 86.00 336.67 88.00 338.00C90.00 339.33 92.33 340.67 94.00 342.00C95.67 343.33 96.67 344.17 98.00 346.00C99.33 347.83 100.33 350.33 102.00 353.00C103.67 355.67 106.00 359.83 108.00 362.00C110.00 364.17 112.00 365.00 114.00 366.00C116.00 367.00 118.00 367.17 120.00 368.00C122.00 368.83 124.00 370.07 126.00 371.00C128.00 371.93 130.00 373.10 132.00 373.60C134.00 374.10 136.00 373.43 138.00 374.00C140.00 374.57 142.17 375.67 144.00 377.00C145.83 378.33 147.33 380.83 149.00 382.00C150.67 383.17 152.17 383.67 154.00 384.00C155.83 384.33 158.00 383.83 160.00 384.00C162.00 384.17 164.00 384.83 166.00 385.00C168.00 385.17 170.00 385.43 172.00 385.00C174.00 384.57 176.00 382.97 178.00 382.40C180.00 381.83 182.00 381.73 184.00 381.60C186.00 381.47 188.00 381.87 190.00 381.60C192.00 381.33 194.00 380.93 196.00 380.00C198.00 379.07 200.00 377.33 202.00 376.00C204.00 374.67 206.33 373.00 208.00 372.00C209.67 371.00 210.67 371.00 212.00 370.00C213.33 369.00 214.67 367.67 216.00 366.00C217.33 364.33 218.67 361.50 220.00 360.00C221.33 358.50 222.00 357.50 224.00 357.00C226.00 356.50 229.33 357.00 232.00 357.00C234.67 357.00 238.00 356.98 240.00 357.00C242.00 357.02 242.83 356.75 244.00 357.10C245.17 357.45 246.00 358.50 247.00 359.10C248.00 359.70 248.67 360.38 250.00 360.70C251.33 361.02 253.33 361.00 255.00 361.00C256.67 361.00 258.50 361.02 260.00 360.70C261.50 360.38 262.83 359.70 264.00 359.10C265.17 358.50 266.00 357.60 267.00 357.10C268.00 356.60 268.83 356.43 270.00 356.10C271.17 355.77 272.83 355.47 274.00 355.10C275.17 354.73 276.00 354.18 277.00 353.90C278.00 353.62 278.67 353.45 280.00 353.40C281.33 353.35 283.33 353.53 285.00 353.60C286.67 353.67 288.50 353.55 290.00 353.80C291.50 354.05 292.67 354.80 294.00 355.10C295.33 355.40 296.67 355.52 298.00 355.60C299.33 355.68 300.33 355.37 302.00 355.60C303.67 355.83 305.67 356.77 308.00 357.00C310.33 357.23 313.67 357.00 316.00 357.00C318.33 357.00 320.00 357.50 322.00 357.00C324.00 356.50 325.67 354.67 328.00 354.00C330.33 353.33 333.67 353.83 336.00 353.00C338.33 352.17 340.00 350.33 342.00 349.00C344.00 347.67 346.00 345.90 348.00 345.00C350.00 344.10 352.00 343.83 354.00 343.60C356.00 343.37 357.67 343.60 360.00 343.60C362.33 343.60 365.67 343.47 368.00 343.60C370.33 343.73 372.33 343.67 374.00 344.40C375.67 345.13 376.67 347.07 378.00 348.00C379.33 348.93 380.33 349.50 382.00 350.00C383.67 350.50 386.00 351.17 388.00 351.00C390.00 350.83 392.00 349.57 394.00 349.00C396.00 348.43 398.00 348.03 400.00 347.60C402.00 347.17 404.00 347.33 406.00 346.40C408.00 345.47 410.00 343.73 412.00 342.00C414.00 340.27 416.00 337.50 418.00 336.00C420.00 334.50 422.00 333.93 424.00 333.00C426.00 332.07 428.00 331.25 430.00 330.40C432.00 329.55 434.53 328.27 436.00 327.90C437.47 327.53 437.75 327.80 438.80 328.20C439.85 328.60 441.02 329.88 442.30 330.30C443.58 330.72 445.12 330.70 446.50 330.70C447.88 330.70 449.45 330.88 450.60 330.30C451.75 329.72 452.47 328.53 453.40 327.20C454.33 325.87 455.27 324.05 456.20 322.30C457.13 320.55 458.07 318.57 459.00 316.70C459.93 314.83 460.98 312.83 461.80 311.10C462.62 309.37 463.17 308.28 463.90 306.30C464.63 304.32 465.15 302.05 466.20 299.20C467.25 296.35 468.87 292.30 470.20 289.20C471.53 286.10 473.03 283.12 474.20 280.60C475.37 278.08 476.20 276.12 477.20 274.10C478.20 272.08 479.07 269.02 480.20 268.50C481.33 267.98 482.70 269.25 484.00 271.00C485.30 272.75 486.67 276.83 488.00 279.00C489.33 281.17 490.67 281.67 492.00 284.00C493.33 286.33 494.67 289.67 496.00 293.00C497.33 296.33 498.67 300.00 500.00 304.00C501.33 308.00 502.67 313.00 504.00 317.00C505.33 321.00 506.83 325.50 508.00 328.00C509.17 330.50 509.67 331.67 511.00 332.00C512.33 332.33 514.17 331.33 516.00 330.00C517.83 328.67 520.33 325.90 522.00 324.00C523.67 322.10 524.67 320.43 526.00 318.60C527.33 316.77 528.50 314.70 530.00 313.00C531.50 311.30 533.67 309.42 535.00 308.40C536.33 307.38 537.00 307.18 538.00 306.90C539.00 306.62 539.98 306.52 541.00 306.70C542.02 306.88 542.97 307.53 544.10 308.00C545.23 308.47 546.80 309.50 547.80 309.50C548.80 309.50 549.33 308.93 550.10 308.00C550.87 307.07 551.52 305.10 552.40 303.90C553.28 302.70 554.27 301.43 555.40 300.80C556.53 300.17 558.07 300.65 559.20 300.10C560.33 299.55 561.33 298.77 562.20 297.50C563.07 296.23 563.78 294.33 564.40 292.50C565.02 290.67 565.37 288.80 565.90 286.50C566.43 284.20 566.93 281.52 567.60 278.70C568.27 275.88 569.20 272.50 569.90 269.60C570.60 266.70 571.23 264.32 571.80 261.30C572.37 258.28 572.83 254.43 573.30 251.50C573.77 248.57 574.00 247.27 574.60 243.70C575.20 240.13 576.02 234.30 576.90 230.10C577.78 225.90 578.77 221.70 579.90 218.50C581.03 215.30 582.43 213.28 583.70 210.90C584.97 208.52 586.25 206.45 587.50 204.20C588.75 201.95 590.08 199.42 591.20 197.40C592.32 195.38 593.32 193.43 594.20 192.10C595.08 190.77 595.73 189.72 596.50 189.40C597.27 189.08 597.92 189.38 598.80 190.20C599.68 191.02 600.67 192.60 601.80 194.30C602.93 196.00 604.35 198.25 605.60 200.40C606.85 202.55 608.05 205.07 609.30 207.20C610.55 209.33 611.65 212.23 613.10 213.20C614.55 214.17 616.68 213.37 618.00 213.00C619.32 212.63 620.00 211.17 621.00 211.00C622.00 210.83 623.00 211.50 624.00 212.00C625.00 212.50 626.00 213.83 627.00 214.00C628.00 214.17 629.00 213.50 630.00 213.00C631.00 212.50 632.00 211.23 633.00 211.00C634.00 210.77 634.83 211.10 636.00 211.60C637.17 212.10 638.67 213.27 640.00 214.00C641.33 214.73 642.67 215.00 644.00 216.00C645.33 217.00 646.67 218.50 648.00 220.00C649.33 221.50 650.67 223.17 652.00 225.00C653.33 226.83 654.67 229.00 656.00 231.00C657.33 233.00 658.67 234.67 660.00 237.00C661.33 239.33 662.67 242.33 664.00 245.00C665.33 247.67 666.67 250.33 668.00 253.00C669.33 255.67 670.67 258.50 672.00 261.00C673.33 263.50 674.67 265.83 676.00 268.00C677.33 270.17 678.67 272.17 680.00 274.00C681.33 275.83 682.67 277.40 684.00 279.00C685.33 280.60 686.67 282.50 688.00 283.60C689.33 284.70 690.67 285.37 692.00 285.60C693.33 285.83 695.00 285.77 696.00 285.00C697.00 284.23 697.33 282.50 698.00 281.00C698.67 279.50 699.00 277.93 700.00 276.00C701.00 274.07 702.67 271.07 704.00 269.40C705.33 267.73 706.67 266.73 708.00 266.00C709.33 265.27 710.67 264.83 712.00 265.00C713.33 265.17 714.67 266.00 716.00 267.00C717.33 268.00 718.67 269.67 720.00 271.00C721.33 272.33 722.67 273.17 724.00 275.00C725.33 276.83 726.67 279.67 728.00 282.00C729.33 284.33 730.67 286.83 732.00 289.00C733.33 291.17 734.67 293.83 736.00 295.00C737.33 296.17 738.67 296.17 740.00 296.00C741.33 295.83 742.67 294.83 744.00 294.00C745.33 293.17 746.67 292.50 748.00 291.00C749.33 289.50 750.67 287.50 752.00 285.00C753.33 282.50 754.67 279.00 756.00 276.00C757.33 273.00 758.67 270.00 760.00 267.00C761.33 264.00 762.58 260.83 764.00 258.00C765.42 255.17 767.75 251.33 768.50 250.00" stroke="#4B0082" stroke-opacity="0.7" stroke-width="2" fill="none" stroke-linejoin="round"/>
<path d="M40.40 260.60C40.83 262.17 42.07 266.27 43.00 270.00C43.93 273.73 45.00 279.33 46.00 283.00C47.00 286.67 47.83 289.00 49.00 292.00C50.17 295.00 51.50 298.33 53.00 301.00C54.50 303.67 56.33 305.67 58.00 308.00C59.67 310.33 61.33 313.10 63.00 315.00C64.67 316.90 66.33 318.07 68.00 319.40C69.67 320.73 71.50 321.90 73.00 323.00C74.50 324.10 75.50 324.50 77.00 326.00C78.50 327.50 80.17 330.33 82.00 332.00C83.83 333.67 86.00 334.83 88.00 336.00C90.00 337.17 92.00 338.17 94.00 339.00C96.00 339.83 98.17 340.00 100.00 341.00C101.83 342.00 103.33 343.83 105.00 345.00C106.67 346.17 108.17 347.00 110.00 348.00C111.83 349.00 114.00 350.00 116.00 351.00C118.00 352.00 120.00 352.67 122.00 354.00C124.00 355.33 126.00 357.33 128.00 359.00C130.00 360.67 132.00 362.50 134.00 364.00C136.00 365.50 138.00 366.67 140.00 368.00C142.00 369.33 144.00 370.83 146.00 372.00C148.00 373.17 150.00 374.17 152.00 375.00C154.00 375.83 156.00 376.43 158.00 377.00C160.00 377.57 161.67 378.13 164.00 378.40C166.33 378.67 169.67 378.23 172.00 378.60C174.33 378.97 176.00 380.10 178.00 380.60C180.00 381.10 182.00 381.43 184.00 381.60C186.00 381.77 188.00 381.70 190.00 381.60C192.00 381.50 194.00 381.43 196.00 381.00C198.00 380.57 200.00 379.77 202.00 379.00C204.00 378.23 206.00 377.33 208.00 376.40C210.00 375.47 212.00 374.47 214.00 373.40C216.00 372.33 218.00 371.07 220.00 370.00C222.00 368.93 224.00 367.77 226.00 367.00C228.00 366.23 230.00 365.83 232.00 365.40C234.00 364.97 236.00 364.80 238.00 364.40C240.00 364.00 242.67 363.37 244.00 363.00C245.33 362.63 245.00 362.58 246.00 362.20C247.00 361.82 248.50 361.22 250.00 360.70C251.50 360.18 253.33 359.45 255.00 359.10C256.67 358.75 258.33 358.85 260.00 358.60C261.67 358.35 263.33 357.88 265.00 357.60C266.67 357.32 268.33 357.07 270.00 356.90C271.67 356.73 272.50 356.65 275.00 356.60C277.50 356.55 282.50 356.60 285.00 356.60C287.50 356.60 288.17 356.63 290.00 356.60C291.83 356.57 293.00 356.43 296.00 356.40C299.00 356.37 304.67 356.47 308.00 356.40C311.33 356.33 313.33 356.13 316.00 356.00C318.67 355.87 321.33 355.77 324.00 355.60C326.67 355.43 329.33 355.43 332.00 355.00C334.67 354.57 337.33 353.83 340.00 353.00C342.67 352.17 345.33 350.73 348.00 350.00C350.67 349.27 353.33 348.93 356.00 348.60C358.67 348.27 361.33 348.43 364.00 348.00C366.67 347.57 370.00 346.40 372.00 346.00C374.00 345.60 374.33 345.43 376.00 345.60C377.67 345.77 380.00 346.77 382.00 347.00C384.00 347.23 385.67 347.00 388.00 347.00C390.33 347.00 393.33 347.23 396.00 347.00C398.67 346.77 401.33 345.83 404.00 345.60C406.67 345.37 409.33 345.93 412.00 345.60C414.67 345.27 417.67 344.37 420.00 343.60C422.33 342.83 424.00 342.10 426.00 341.00C428.00 339.90 429.67 337.90 432.00 337.00C434.33 336.10 437.67 335.77 440.00 335.60C442.33 335.43 444.00 336.60 446.00 336.00C448.00 335.40 450.33 333.67 452.00 332.00C453.67 330.33 454.33 328.50 456.00 326.00C457.67 323.50 460.00 319.67 462.00 317.00C464.00 314.33 466.00 312.00 468.00 310.00C470.00 308.00 472.17 306.67 474.00 305.00C475.83 303.33 477.00 301.00 479.00 300.00C481.00 299.00 483.83 299.40 486.00 299.00C488.17 298.60 490.00 297.77 492.00 297.60C494.00 297.43 496.00 297.70 498.00 298.00C500.00 298.30 501.67 298.97 504.00 299.40C506.33 299.83 509.67 299.83 512.00 300.60C514.33 301.37 516.00 302.77 518.00 304.00C520.00 305.23 522.00 306.50 524.00 308.00C526.00 309.50 528.17 311.80 530.00 313.00C531.83 314.20 533.53 314.33 535.00 315.20C536.47 316.07 537.55 317.45 538.80 318.20C540.05 318.95 541.25 319.52 542.50 319.70C543.75 319.88 545.03 319.62 546.30 319.30C547.57 318.98 548.83 318.62 550.10 317.80C551.37 316.98 552.65 315.72 553.90 314.40C555.15 313.08 556.35 311.65 557.60 309.90C558.85 308.15 560.13 306.17 561.40 303.90C562.67 301.63 564.03 298.87 565.20 296.30C566.37 293.73 567.23 290.93 568.40 288.50C569.57 286.07 571.07 283.97 572.20 281.70C573.33 279.43 574.20 277.17 575.20 274.90C576.20 272.63 577.20 270.37 578.20 268.10C579.20 265.83 580.20 263.43 581.20 261.30C582.20 259.17 583.18 256.87 584.20 255.30C585.22 253.73 586.25 253.08 587.30 251.90C588.35 250.72 589.35 249.82 590.50 248.20C591.65 246.58 593.07 244.22 594.20 242.20C595.33 240.18 596.03 238.62 597.30 236.10C598.57 233.58 600.30 229.87 601.80 227.10C603.30 224.33 604.85 221.52 606.30 219.50C607.75 217.48 609.22 216.42 610.50 215.00C611.78 213.58 612.75 212.33 614.00 211.00C615.25 209.67 616.67 208.17 618.00 207.00C619.33 205.83 620.67 204.73 622.00 204.00C623.33 203.27 624.67 202.77 626.00 202.60C627.33 202.43 628.67 202.43 630.00 203.00C631.33 203.57 632.67 204.67 634.00 206.00C635.33 207.33 636.67 209.50 638.00 211.00C639.33 212.50 640.67 214.00 642.00 215.00C643.33 216.00 644.67 216.33 646.00 217.00C647.33 217.67 648.67 218.17 650.00 219.00C651.33 219.83 652.67 221.07 654.00 222.00C655.33 222.93 656.33 223.77 658.00 224.60C659.67 225.43 662.00 225.10 664.00 227.00C666.00 228.90 668.00 233.33 670.00 236.00C672.00 238.67 674.00 240.67 676.00 243.00C678.00 245.33 680.00 247.67 682.00 250.00C684.00 252.33 686.00 254.50 688.00 257.00C690.00 259.50 692.00 263.40 694.00 265.00C696.00 266.60 698.00 265.87 700.00 266.60C702.00 267.33 704.00 268.60 706.00 269.40C708.00 270.20 710.00 270.30 712.00 271.40C714.00 272.50 716.00 274.40 718.00 276.00C720.00 277.60 722.00 280.00 724.00 281.00C726.00 282.00 728.00 281.90 730.00 282.00C732.00 282.10 734.00 281.77 736.00 281.60C738.00 281.43 740.00 281.43 742.00 281.00C744.00 280.57 745.67 279.60 748.00 279.00C750.33 278.40 753.33 277.90 756.00 277.40C758.67 276.90 761.92 276.63 764.00 276.00C766.08 275.37 767.75 274.00 768.50 273.60" stroke="#D2691E" stroke-opacity="0.7" stroke-width="2" fill="none" stroke-linejoin="round"/>
<path d="M40.40 194.60C41.67 195.40 45.40 197.93 48.00 199.40C50.60 200.87 53.67 201.97 56.00 203.40C58.33 204.83 60.00 206.23 62.00 208.00C64.00 209.77 66.17 211.83 68.00 214.00C69.83 216.17 71.33 219.00 73.00 221.00C74.67 223.00 76.33 224.50 78.00 226.00C79.67 227.50 81.33 228.33 83.00 230.00C84.67 231.67 86.17 233.83 88.00 236.00C89.83 238.17 92.00 240.83 94.00 243.00C96.00 245.17 98.00 247.00 100.00 249.00C102.00 251.00 104.17 252.83 106.00 255.00C107.83 257.17 109.33 260.00 111.00 262.00C112.67 264.00 114.33 265.17 116.00 267.00C117.67 268.83 119.33 270.83 121.00 273.00C122.67 275.17 123.83 277.33 126.00 280.00C128.17 282.67 131.67 286.33 134.00 289.00C136.33 291.67 138.17 293.33 140.00 296.00C141.83 298.67 143.33 302.33 145.00 305.00C146.67 307.67 148.17 309.67 150.00 312.00C151.83 314.33 154.00 316.50 156.00 319.00C158.00 321.50 160.00 324.50 162.00 327.00C164.00 329.50 165.67 331.33 168.00 334.00C170.33 336.67 173.33 340.50 176.00 343.00C178.67 345.50 181.67 347.33 184.00 349.00C186.33 350.67 188.00 351.67 190.00 353.00C192.00 354.33 193.67 355.83 196.00 357.00C198.33 358.17 201.33 359.17 204.00 360.00C206.67 360.83 209.33 361.50 212.00 362.00C214.67 362.50 217.33 362.83 220.00 363.00C222.67 363.17 225.33 362.77 228.00 363.00C230.67 363.23 233.33 363.80 236.00 364.40C238.67 365.00 241.67 366.05 244.00 366.60C246.33 367.15 248.17 367.35 250.00 367.70C251.83 368.05 249.17 368.53 255.00 368.70C260.83 368.87 279.33 368.95 285.00 368.70C290.67 368.45 287.17 367.48 289.00 367.20C290.83 366.92 292.50 367.03 296.00 367.00C299.50 366.97 306.67 367.33 310.00 367.00C313.33 366.67 313.67 365.43 316.00 365.00C318.33 364.57 321.67 364.90 324.00 364.40C326.33 363.90 327.33 362.80 330.00 362.00C332.67 361.20 337.00 360.17 340.00 359.60C343.00 359.03 345.33 359.03 348.00 358.60C350.67 358.17 353.33 357.60 356.00 357.00C358.67 356.40 361.33 355.33 364.00 355.00C366.67 354.67 369.33 355.17 372.00 355.00C374.67 354.83 377.33 354.23 380.00 354.00C382.67 353.77 385.33 353.87 388.00 353.60C390.67 353.33 393.33 352.60 396.00 352.40C398.67 352.20 401.33 352.63 404.00 352.40C406.67 352.17 409.33 351.33 412.00 351.00C414.67 350.67 417.67 350.97 420.00 350.40C422.33 349.83 423.33 348.25 426.00 347.60C428.67 346.95 432.00 346.77 436.00 346.50C440.00 346.23 446.67 346.75 450.00 346.00C453.33 345.25 453.67 343.43 456.00 342.00C458.33 340.57 461.33 338.73 464.00 337.40C466.67 336.07 469.33 335.13 472.00 334.00C474.67 332.87 477.33 331.50 480.00 330.60C482.67 329.70 485.33 329.13 488.00 328.60C490.67 328.07 494.00 327.57 496.00 327.40C498.00 327.23 497.67 327.57 500.00 327.60C502.33 327.63 506.85 328.02 510.00 327.60C513.15 327.18 516.37 325.83 518.90 325.10C521.43 324.37 522.68 323.88 525.20 323.20C527.72 322.52 530.87 321.42 534.00 321.00C537.13 320.58 541.28 320.97 544.00 320.70C546.72 320.43 548.42 320.03 550.30 319.40C552.18 318.77 553.62 317.63 555.30 316.90C556.98 316.17 559.00 315.73 560.40 315.00C561.80 314.27 562.40 313.47 563.70 312.50C565.00 311.53 566.70 310.63 568.20 309.20C569.70 307.77 571.18 305.42 572.70 303.90C574.22 302.38 575.78 301.48 577.30 300.10C578.82 298.72 580.30 296.92 581.80 295.60C583.30 294.28 584.80 293.22 586.30 292.20C587.80 291.18 589.42 290.45 590.80 289.50C592.18 288.55 593.43 287.55 594.60 286.50C595.77 285.45 596.13 284.25 597.80 283.20C599.47 282.15 602.57 281.17 604.60 280.20C606.63 279.23 608.10 278.43 610.00 277.40C611.90 276.37 614.00 275.18 616.00 274.00C618.00 272.82 620.00 271.50 622.00 270.30C624.00 269.10 626.00 268.10 628.00 266.80C630.00 265.50 631.67 263.70 634.00 262.50C636.33 261.30 639.67 260.15 642.00 259.60C644.33 259.05 646.33 259.08 648.00 259.20C649.67 259.32 650.33 260.37 652.00 260.30C653.67 260.23 656.00 259.32 658.00 258.80C660.00 258.28 661.67 257.50 664.00 257.20C666.33 256.90 669.67 257.27 672.00 257.00C674.33 256.73 676.00 256.10 678.00 255.60C680.00 255.10 682.00 254.63 684.00 254.00C686.00 253.37 688.00 252.50 690.00 251.80C692.00 251.10 693.67 250.43 696.00 249.80C698.33 249.17 701.33 248.55 704.00 248.00C706.67 247.45 709.33 247.00 712.00 246.50C714.67 246.00 717.33 245.25 720.00 245.00C722.67 244.75 725.33 245.00 728.00 245.00C730.67 245.00 733.33 245.00 736.00 245.00C738.67 245.00 741.33 244.67 744.00 245.00C746.67 245.33 749.33 246.07 752.00 247.00C754.67 247.93 757.25 249.60 760.00 250.60C762.75 251.60 767.08 252.60 768.50 253.00" stroke="#C71585" stroke-opacity="0.7" stroke-width="2" fill="none" stroke-linejoin="round"/>
<path d="M40.40 270.00C48.67 270.00 80.90 269.70 90.00 270.00C99.10 270.30 90.00 271.47 95.00 271.80C100.00 272.13 115.17 271.77 120.00 272.00C124.83 272.23 113.83 273.00 124.00 273.20C134.17 273.40 170.67 273.07 181.00 273.20C191.33 273.33 184.33 273.45 186.00 274.00C187.67 274.55 187.67 276.07 191.00 276.50C194.33 276.93 202.67 276.28 206.00 276.60C209.33 276.92 208.83 278.07 211.00 278.40C213.17 278.73 216.50 278.17 219.00 278.60C221.50 279.03 223.50 280.27 226.00 281.00C228.50 281.73 231.50 282.43 234.00 283.00C236.50 283.57 239.17 283.73 241.00 284.40C242.83 285.07 243.67 286.07 245.00 287.00C246.33 287.93 247.17 288.83 249.00 290.00C250.83 291.17 253.17 292.43 256.00 294.00C258.83 295.57 262.67 297.57 266.00 299.40C269.33 301.23 272.67 303.13 276.00 305.00C279.33 306.87 282.67 308.85 286.00 310.60C289.33 312.35 292.67 313.72 296.00 315.50C299.33 317.28 303.00 319.38 306.00 321.30C309.00 323.22 311.67 325.72 314.00 327.00C316.33 328.28 318.00 328.17 320.00 329.00C322.00 329.83 324.00 330.83 326.00 332.00C328.00 333.17 329.67 334.67 332.00 336.00C334.33 337.33 337.33 338.50 340.00 340.00C342.67 341.50 345.33 343.33 348.00 345.00C350.67 346.67 353.33 348.57 356.00 350.00C358.67 351.43 361.33 352.77 364.00 353.60C366.67 354.43 369.33 354.67 372.00 355.00C374.67 355.33 378.00 355.43 380.00 355.60C382.00 355.77 382.67 355.73 384.00 356.00C385.33 356.27 386.00 357.00 388.00 357.20C390.00 357.40 385.33 357.20 396.00 357.20C406.67 357.20 442.00 357.57 452.00 357.20C462.00 356.83 453.67 355.87 456.00 355.00C458.33 354.13 462.67 353.00 466.00 352.00C469.33 351.00 472.33 349.83 476.00 349.00C479.67 348.17 484.67 347.40 488.00 347.00C491.33 346.60 494.00 346.52 496.00 346.60C498.00 346.68 498.50 347.63 500.00 347.50C501.50 347.37 502.90 346.08 505.00 345.80C507.10 345.52 510.28 346.15 512.60 345.80C514.92 345.45 516.38 344.50 518.90 343.70C521.42 342.90 524.77 341.45 527.70 341.00C530.63 340.55 533.78 341.40 536.50 341.00C539.22 340.60 541.28 339.42 544.00 338.60C546.72 337.78 549.65 336.93 552.80 336.10C555.95 335.27 560.38 334.28 562.90 333.60C565.42 332.92 565.80 333.00 567.90 332.00C570.00 331.00 572.98 328.97 575.50 327.60C578.02 326.23 580.92 324.75 583.00 323.80C585.08 322.85 586.32 322.53 588.00 321.90C589.68 321.27 591.20 320.90 593.10 320.00C595.00 319.10 597.25 317.42 599.40 316.50C601.55 315.58 603.23 315.42 606.00 314.50C608.77 313.58 613.33 312.25 616.00 311.00C618.67 309.75 620.00 308.00 622.00 307.00C624.00 306.00 626.00 305.83 628.00 305.00C630.00 304.17 631.00 302.93 634.00 302.00C637.00 301.07 642.33 300.23 646.00 299.40C649.67 298.57 653.33 297.70 656.00 297.00C658.67 296.30 659.83 295.88 662.00 295.20C664.17 294.52 666.50 293.32 669.00 292.90C671.50 292.48 673.50 293.37 677.00 292.70C680.50 292.03 686.83 289.92 690.00 288.90C693.17 287.88 693.33 287.32 696.00 286.60C698.67 285.88 702.67 285.00 706.00 284.60C709.33 284.20 712.67 284.53 716.00 284.20C719.33 283.87 722.67 283.07 726.00 282.60C729.33 282.13 732.67 282.07 736.00 281.40C739.33 280.73 742.67 279.40 746.00 278.60C749.33 277.80 752.25 277.53 756.00 276.60C759.75 275.67 766.42 273.60 768.50 273.00" stroke="#008080" stroke-opacity="0.7" stroke-width="2" fill="none" stroke-linejoin="round"/>
<line x1="264.7" y1="468.2" x2="289.7" y2="468.2" stroke="#4B0082" stroke-opacity="0.7" stroke-width="2"/>
<circle cx="277.2" cy="468.2" r="5.6" fill="#fff" stroke="#4B0082" stroke-width="2"/>
<text x="294.7" y="472.5" class="lg">MA5</text>
<line x1="330.0" y1="468.2" x2="355.0" y2="468.2" stroke="#D2691E" stroke-opacity="0.7" stroke-width="2"/>
<circle cx="342.5" cy="468.2" r="5.6" fill="#fff" stroke="#D2691E" stroke-width="2"/>
<text x="360.0" y="472.5" class="lg">MA10</text>
<line x1="402.5" y1="468.2" x2="427.5" y2="468.2" stroke="#C71585" stroke-opacity="0.7" stroke-width="2"/>
<circle cx="415.0" cy="468.2" r="5.6" fill="#fff" stroke="#C71585" stroke-width="2"/>
<text x="432.5" y="472.5" class="lg">MA30</text>
<line x1="475.3" y1="468.2" x2="500.3" y2="468.2" stroke="#008080" stroke-opacity="0.7" stroke-width="2"/>
<circle cx="487.8" cy="468.2" r="5.6" fill="#fff" stroke="#008080" stroke-width="2"/>
<text x="505.3" y="472.5" class="lg">MA60</text>
</svg>
<div class="t" style="left:0px;top:3.5px"><span style="position:relative;top:-1px">杭钢股份</span> 600126</div>
<div style="position:absolute;left:123px;top:5px;width:1px;height:13px;background:#e6e6e6"></div>
<div class="t" style="left:139.7px;top:3.5px"><span style="position:relative;top:-1px">日</span>K</div>
<div class="t" style="left:334px;top:497px;color:#666">数据来源<span style="font-family:'Noto Sans CJK SC',sans-serif">：</span> 恒生聚源</div>
</body></html>
